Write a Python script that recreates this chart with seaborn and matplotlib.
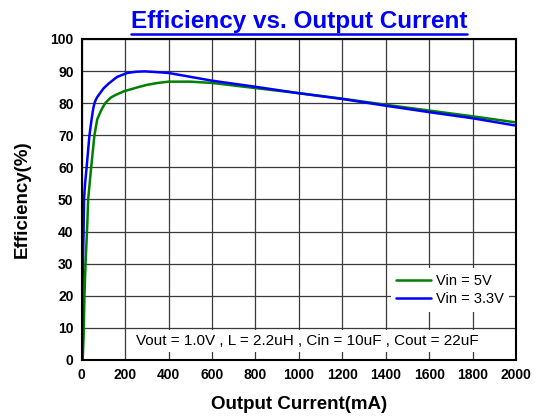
import pandas as pd
import matplotlib.pyplot as plt
import seaborn as sns
from matplotlib.lines import Line2D
from matplotlib.ticker import MultipleLocator

# Vin = 3.3V curve (mA, %)
vin33_current = [1, 2, 5, 8, 10, 15, 22, 35, 45, 50, 54, 58, 62, 66, 72, 86, 100, 125, 163,
                 209, 250, 290, 340, 400, 600, 800, 1000, 1200, 1400, 1600, 1800, 2000]
vin33_eff = [0, 19, 30, 40, 50, 55, 60, 70, 75, 77.3, 78.8, 79.9, 80.7, 81.3, 82.0, 83.3, 84.6,
             86.2, 88.2, 89.4, 89.8, 89.9, 89.7, 89.4, 87.0, 85.1, 83.1, 81.3, 79.2, 77.2,
             75.3, 73.0]

# Vin = 5V curve (mA, %)
vin5_current = [4, 5, 8, 12, 17, 25, 29, 43, 58, 71, 88, 97, 108, 120, 135, 157, 194, 255,
                300, 350, 400, 500, 600, 800, 1000, 1200, 1400, 1600, 1800, 2000]
vin5_eff = [0, 2, 7, 20, 30, 42, 50, 60, 70, 75, 77.6, 78.8, 80.0, 80.9, 81.8, 82.6, 83.7, 84.9,
            85.7, 86.3, 86.7, 86.7, 86.3, 84.7, 83.1, 81.4, 79.5, 77.7, 75.9, 74.0]

series_names = ["Vin = 5V", "Vin = 3.3V"]
series_colors = ["#008000", "#0000FF"]

sns.set_theme(style="white")
plt.rcParams['font.family'] = ['Liberation Sans', 'DejaVu Sans']
plt.rcParams['text.color'] = 'black'
plt.rcParams['axes.labelcolor'] = 'black'
plt.rcParams['xtick.color'] = 'black'
plt.rcParams['ytick.color'] = 'black'

df = pd.concat([
    pd.DataFrame({"current": vin5_current, "eff": vin5_eff, "series": series_names[0]}),
    pd.DataFrame({"current": vin33_current, "eff": vin33_eff, "series": series_names[1]}),
])

fig = plt.figure(figsize=(5.42, 4.19), dpi=100)
ax = fig.add_axes([0.151, 0.141, 0.801, 0.766])

sns.lineplot(data=df, x="current", y="eff", hue="series", palette=series_colors,
             sort=False, linewidth=1.8, ax=ax, zorder=3)

ax.set_xlim(0, 2000)
ax.set_ylim(0, 100)
ax.xaxis.set_major_locator(MultipleLocator(200))
ax.xaxis.set_minor_locator(MultipleLocator(100))
ax.yaxis.set_major_locator(MultipleLocator(10))
ax.yaxis.set_minor_locator(MultipleLocator(5))
ax.tick_params(which="both", direction="in", color="black", width=1.2)
ax.tick_params(which="major", length=0, pad=6, labelsize=10)
ax.tick_params(which="minor", length=4)
for lab in ax.get_xticklabels() + ax.get_yticklabels():
    lab.set_fontweight("bold")

ax.grid(True, which="major", color="#3a3a3a", linewidth=0.9)
for sp in ax.spines.values():
    sp.set_color("black")
    sp.set_linewidth(1.5)
    sp.set_zorder(4)

ax.set_xlabel("Output Current(mA)", fontsize=13.5, fontweight="bold", labelpad=10)
ax.set_ylabel("Efficiency(%)", fontsize=13.5, fontweight="bold", labelpad=14)
title = ax.set_title("Efficiency vs. Output Current", fontsize=17.5, fontweight="bold",
                     color="#0000FF", pad=8)

ax.text(0.52, 0.036, "Vout = 1.0V , L = 2.2uH , Cin = 10uF , Cout = 22uF",
        transform=ax.transAxes, ha="center", va="bottom", fontsize=11, zorder=5,
        bbox=dict(facecolor="white", edgecolor="none", pad=3))

leg = ax.legend(loc="lower right", bbox_to_anchor=(0.985, 0.15), fontsize=10.5,
                frameon=True, facecolor="white", edgecolor="none", framealpha=1,
                fancybox=False, handlelength=2.4, handletextpad=0.3,
                borderpad=0.4, labelspacing=0.25, borderaxespad=0)
leg.set_zorder(5)

# underline the title
fig.canvas.draw()
bb = title.get_window_extent()
w, h = fig.bbox.width, fig.bbox.height
y_line = (bb.y0 - 1) / h
fig.add_artist(Line2D([bb.x0 / w, bb.x1 / w], [y_line, y_line], color="#0000FF", linewidth=1.8))

fig.savefig("out.png", dpi=100)
